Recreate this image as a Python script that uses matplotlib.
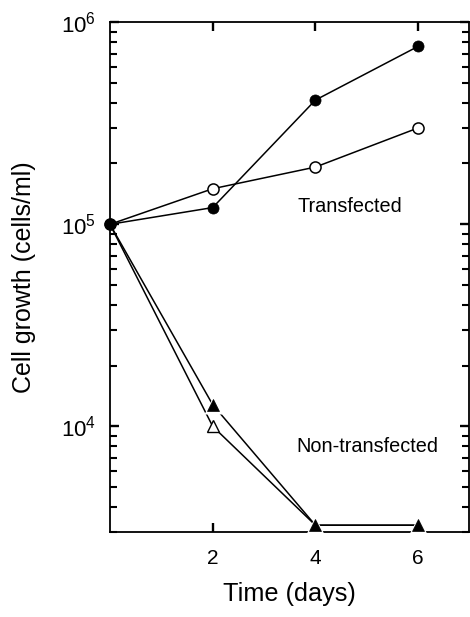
import matplotlib
matplotlib.use('Agg')
import matplotlib.pyplot as plt
from matplotlib.ticker import LogLocator, NullFormatter, FixedLocator, FixedFormatter, NullLocator

plt.rcParams['font.family'] = ['Liberation Sans', 'DejaVu Sans']
plt.rcParams['mathtext.fontset'] = 'custom'
plt.rcParams['mathtext.rm'] = 'Liberation Sans'
plt.rcParams['mathtext.it'] = 'Liberation Sans:italic'
plt.rcParams['mathtext.bf'] = 'Liberation Sans:bold'

# ---- data ----
days = [0, 2, 4, 6]
transfected_filled = [1.0e5, 1.21e5, 4.12e5, 7.6e5]
transfected_open = [1.0e5, 1.5e5, 1.92e5, 3.0e5]
nontransfected_filled = [1.0e5, 1.28e4, 3.24e3, 3.24e3]
nontransfected_open = [1.0e5, 1.0e4, 3.24e3, 3.24e3]
x_ticks = [2, 4, 6]
x_tick_labels = ['2', '4', '6']
y_ticks = [1e4, 1e5, 1e6]
y_tick_labels = [r'$\mathregular{10^4}$', r'$\mathregular{10^5}$', r'$\mathregular{10^6}$']
group_labels = ['Transfected', 'Non-transfected']

fig = plt.figure(figsize=(4.70, 6.17), dpi=100)
ax = fig.add_axes([0.234, 0.1378, 0.7649, 0.8261])
ax.set_yscale('log')
ax.set_xlim(0, 7)
ax.set_ylim(3000, 1e6)

lw = 1.1
ms = 8
tri_idx = [1, 2, 3]

# lines
for ys in (transfected_filled, transfected_open, nontransfected_filled, nontransfected_open):
    ax.plot(days, ys, '-', color='black', lw=lw, zorder=2, clip_on=False)

# open triangles
ax.plot(days, nontransfected_open, linestyle='none', marker='^', ms=ms, mfc='white',
        mec='black', mew=1.0, markevery=tri_idx, zorder=3, clip_on=False)
# white halo behind filled triangles
ax.plot(days, nontransfected_filled, linestyle='none', marker='^', ms=ms + 4.5, mfc='white',
        mec='none', markevery=tri_idx, zorder=3.5, clip_on=False)
ax.plot(days, nontransfected_filled, linestyle='none', marker='^', ms=ms, mfc='black',
        mec='black', mew=0.5, markevery=tri_idx, zorder=4, clip_on=False)
# circles
ax.plot(days, transfected_open, linestyle='none', marker='o', ms=ms, mfc='white',
        mec='black', mew=1.1, zorder=4, clip_on=False)
ax.plot(days, transfected_filled, linestyle='none', marker='o', ms=ms, mfc='black',
        mec='black', mew=0.5, zorder=5, clip_on=False)

# annotations
ax.text(3.66, 1.22e5, group_labels[0], fontsize=14.3, ha='left', va='center')
ax.text(3.62, 7.96e3, group_labels[1], fontsize=14.3, ha='left', va='center')

# ticks
ax.xaxis.set_major_locator(FixedLocator(x_ticks))
ax.xaxis.set_major_formatter(FixedFormatter(x_tick_labels))
ax.xaxis.set_minor_locator(NullLocator())
ax.yaxis.set_major_locator(FixedLocator(y_ticks))
ax.yaxis.set_major_formatter(FixedFormatter(y_tick_labels))
ax.yaxis.set_minor_locator(LogLocator(base=10, subs=[2, 3, 4, 5, 6, 7, 8, 9], numticks=20))
ax.yaxis.set_minor_formatter(NullFormatter())

ax.tick_params(which='both', direction='in', top=True, right=True, colors='black')
ax.tick_params(which='major', length=6.3, width=1.7)
ax.tick_params(which='minor', length=4.8, width=1.5)
ax.tick_params(axis='x', which='major', labelsize=15, pad=12)
ax.tick_params(axis='y', which='major', labelsize=16, pad=10)

for sp in ax.spines.values():
    sp.set_linewidth(1.3)
    sp.set_color('black')

ax.set_xlabel('Time (days)', fontsize=18.2, labelpad=10)
ax.set_ylabel('Cell growth (cells/ml)', fontsize=18, labelpad=18)

fig.savefig('out.png', dpi=100)
